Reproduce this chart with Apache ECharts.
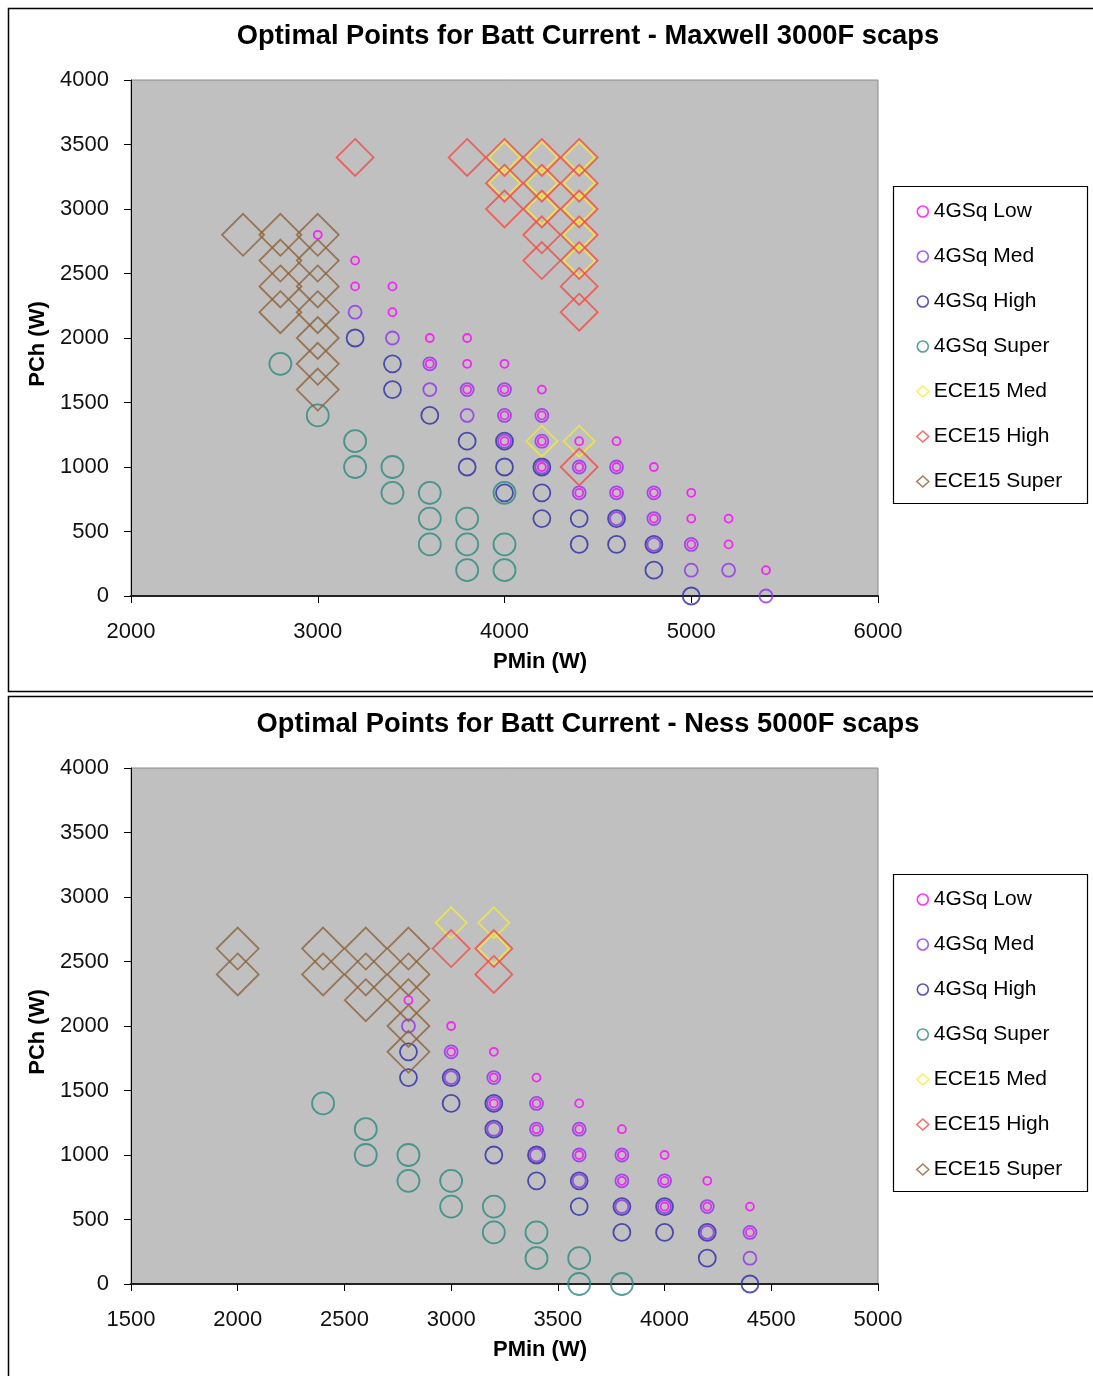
<!DOCTYPE html>
<html>
<head>
<meta charset="utf-8">
<title>Optimal Points for Batt Current</title>
<script src="https://cdn.jsdelivr.net/npm/echarts@6/dist/echarts.min.js"></script>
<style>
  html, body { margin: 0; padding: 0; background: #fff; }
  #chart { width: 1093px; height: 1376px; }
</style>
</head>
<body>
<div id="chart"></div>
<script>
// ---- Maxwell 3000F scaps : [PMin (W), PCh (W)] ----
const maxwellLow = [
  [3000,2800],[3200,2600],[3200,2400],[3400,2400],[3400,2200],[3600,2000],[3800,2000],
  [3600,1800],[3800,1800],[4000,1800],[3800,1600],[4000,1600],[4200,1600],[4000,1400],
  [4200,1400],[4000,1200],[4200,1200],[4400,1200],[4600,1200],[4200,1000],[4400,1000],
  [4600,1000],[4800,1000],[4400,800],[4600,800],[4800,800],[5000,800],[4800,600],
  [5000,600],[5200,600],[5000,400],[5200,400],[5400,200]
];
const maxwellMed = [
  [3200,2200],[3400,2000],[3600,1800],[3600,1600],[3800,1600],[3800,1400],[4000,1600],
  [4000,1400],[4000,1200],[4200,1400],[4200,1200],[4200,1000],[4400,1000],[4400,800],
  [4600,1000],[4600,800],[4600,600],[4800,800],[4800,600],[4800,400],[5000,400],
  [5000,200],[5200,200],[5400,0]
];
const maxwellHigh = [
  [3200,2000],[3400,1800],[3400,1600],[3600,1400],[3800,1200],[3800,1000],[4000,1200],
  [4000,1000],[4000,800],[4200,1000],[4200,800],[4200,600],[4400,600],[4400,400],
  [4600,600],[4600,400],[4800,400],[4800,200],[5000,0]
];
const maxwellSuper = [
  [2800,1800],[3000,1400],[3200,1200],[3200,1000],[3400,1000],[3400,800],[3600,800],
  [4000,800],[3600,600],[3800,600],[3600,400],[3800,400],[4000,400],[3800,200],[4000,200]
];
const maxwellEceMed = [
  [4000,3400],[4200,3400],[4400,3400],[4000,3200],[4200,3200],[4400,3200],[4200,3000],
  [4400,3000],[4400,2800],[4400,2600],[4200,1200],[4400,1200]
];
const maxwellEceHigh = [
  [3200,3400],[3800,3400],[4000,3400],[4200,3400],[4400,3400],[4000,3200],[4200,3200],
  [4400,3200],[4000,3000],[4200,3000],[4400,3000],[4200,2800],[4400,2800],[4200,2600],
  [4400,2600],[4400,2400],[4400,2200],[4400,1000]
];
const maxwellEceSuper = [
  [2600,2800],[2800,2800],[3000,2800],[2800,2600],[3000,2600],[2800,2400],[3000,2400],
  [2800,2200],[3000,2200],[3000,2000],[3000,1800],[3000,1600]
];

// ---- Ness 5000F scaps : [PMin (W), PCh (W)] ----
const nessLow = [
  [2800,2200],[3000,2000],[3000,1800],[3200,1800],[3200,1600],[3400,1600],[3200,1400],
  [3400,1400],[3600,1400],[3400,1200],[3600,1200],[3800,1200],[3600,1000],[3800,1000],
  [4000,1000],[3800,800],[4000,800],[4200,800],[4000,600],[4200,600],[4400,600],[4400,400]
];
const nessMed = [
  [2800,2000],[3000,1800],[3000,1600],[3200,1600],[3200,1400],[3400,1400],[3200,1200],
  [3400,1200],[3600,1200],[3400,1000],[3600,1000],[3800,1000],[3600,800],[3800,800],
  [4000,800],[3800,600],[4000,600],[4200,600],[4200,400],[4400,400],[4400,200]
];
const nessHigh = [
  [2800,1800],[2800,1600],[3000,1600],[3000,1400],[3200,1400],[3200,1200],[3200,1000],
  [3400,1000],[3400,800],[3600,800],[3600,600],[3800,600],[4000,600],[3800,400],
  [4000,400],[4200,400],[4200,200],[4400,0]
];
const nessSuper = [
  [2400,1400],[2600,1200],[2600,1000],[2800,1000],[2800,800],[3000,800],[3000,600],
  [3200,600],[3200,400],[3400,400],[3400,200],[3600,200],[3600,0],[3800,0]
];
const nessEceMed = [[3000,2800],[3200,2800],[3200,2600]];
const nessEceHigh = [[3000,2600],[3200,2600],[3200,2400]];
const nessEceSuper = [
  [2000,2600],[2000,2400],[2400,2600],[2400,2400],[2600,2600],[2600,2400],[2600,2200],
  [2800,2600],[2800,2400],[2800,2200],[2800,2000],[2800,1800]
];

// ---- labels ----
const titles = [
  'Optimal Points for Batt Current - Maxwell 3000F scaps',
  'Optimal Points for Batt Current - Ness 5000F scaps'
];
const seriesNames = ['4GSq Low','4GSq Med','4GSq High','4GSq Super','ECE15 Med','ECE15 High','ECE15 Super'];
const xTitle = 'PMin (W)';
const yTitle = 'PCh (W)';

// marker look per series
const markerStyles = [
  { symbol: 'circle',  size: 8,  color: '#ff00ff' },
  { symbol: 'circle',  size: 13, color: '#9030ee' },
  { symbol: 'circle',  size: 17, color: '#2b2ba6' },
  { symbol: 'circle',  size: 22, color: '#2b8a80' },
  { symbol: 'diamond', size: 31, color: '#f2ea3a' },
  { symbol: 'diamond', size: 37, color: '#f24a45' },
  { symbol: 'diamond', size: 42, color: '#8c6239' }
];

const chartData = [
  [maxwellLow, maxwellMed, maxwellHigh, maxwellSuper, maxwellEceMed, maxwellEceHigh, maxwellEceSuper],
  [nessLow, nessMed, nessHigh, nessSuper, nessEceMed, nessEceHigh, nessEceSuper]
];

const FONT = 'Liberation Sans, Arial, sans-serif';
const panelTop = [0, 688];          // vertical offset of each panel
const xRanges = [
  { min: 2000, max: 6000, interval: 1000 },
  { min: 1500, max: 5000, interval: 500 }
];

const plainNumber = v => String(v);
const grids = [], xAxes = [], yAxes = [], series = [], legends = [], graphics = [];

panelTop.forEach((off, p) => {
  grids.push({
    left: 131, top: 80 + off, width: 747, height: 516,
    show: true, backgroundColor: '#c0c0c0', borderColor: '#8a8a8a', borderWidth: 1
  });
  xAxes.push({
    type: 'value', gridIndex: p,
    min: xRanges[p].min, max: xRanges[p].max, interval: xRanges[p].interval,
    axisLine: { show: true, onZero: false, lineStyle: { color: '#222', width: 2 } },
    axisTick: { show: true, inside: false, length: 7, lineStyle: { color: '#000', width: 1 } },
    axisLabel: { margin: 25, fontFamily: FONT, fontSize: 22, color: '#111', formatter: plainNumber },
    splitLine: { show: false }
  });
  yAxes.push({
    type: 'value', gridIndex: p, min: 0, max: 4000, interval: 500,
    axisLine: { show: true, onZero: false, lineStyle: { color: '#000', width: 1 } },
    axisTick: { show: true, inside: false, length: 7, lineStyle: { color: '#000', width: 1 } },
    axisLabel: { margin: 22, fontFamily: FONT, fontSize: 22, color: '#111', formatter: plainNumber },
    splitLine: { show: false }
  });

  chartData[p].forEach((pts, i) => {
    const m = markerStyles[i];
    series.push({
      type: 'scatter', name: seriesNames[i],
      xAxisIndex: p, yAxisIndex: p,
      data: pts,
      symbol: m.symbol, symbolSize: m.size,
      itemStyle: { color: 'transparent', borderColor: m.color, borderWidth: 1.8 },
      emphasis: { disabled: true },
      silent: true, z: 2 + i * 0.01
    });
  });

  legends.push({
    orient: 'vertical', left: 916, top: 201 + off,
    padding: 0, itemGap: 24, itemWidth: 12, itemHeight: 11,
    selectedMode: false,
    textStyle: { fontFamily: FONT, fontSize: 21, color: '#000', lineHeight: 21 },
    data: seriesNames.map((n, i) => ({
      name: n,
      icon: markerStyles[i].symbol,
      itemStyle: { color: 'transparent', borderColor: markerStyles[i].color, borderWidth: 1.6 }
    }))
  });

  // panel frame
  graphics.push({
    type: 'rect', silent: true, z: -10,
    shape: { x: 8.5, y: 8.5 + off, width: 1200, height: p === 0 ? 683 : 800 },
    style: { fill: null, stroke: '#000', lineWidth: 1.5 }
  });
  // legend frame
  graphics.push({
    type: 'rect', silent: true, z: -5,
    shape: { x: 893.5, y: 186.5 + off, width: 194, height: 317 },
    style: { fill: '#fff', stroke: '#000', lineWidth: 1.2 }
  });
  // chart title
  graphics.push({
    type: 'text', silent: true,
    x: 588, y: 36 + off,
    style: {
      text: titles[p], textAlign: 'center', textVerticalAlign: 'middle',
      font: 'bold 27.3px ' + FONT, fill: '#000'
    }
  });
  // x axis title
  graphics.push({
    type: 'text', silent: true,
    x: 540, y: 662 + off,
    style: {
      text: xTitle, textAlign: 'center', textVerticalAlign: 'middle',
      font: 'bold 22px ' + FONT, fill: '#000'
    }
  });
  // y axis title
  graphics.push({
    type: 'text', silent: true,
    x: 38, y: 344 + off, rotation: Math.PI / 2,
    style: {
      text: yTitle, textAlign: 'center', textVerticalAlign: 'middle',
      font: 'bold 22px ' + FONT, fill: '#000'
    }
  });
});

const chart = echarts.init(document.getElementById('chart'), null, { renderer: 'canvas' });
chart.setOption({
  animation: false,
  backgroundColor: '#fff',
  grid: grids,
  xAxis: xAxes,
  yAxis: yAxes,
  legend: legends,
  series: series,
  graphic: { elements: graphics }
});
</script>
</body>
</html>
